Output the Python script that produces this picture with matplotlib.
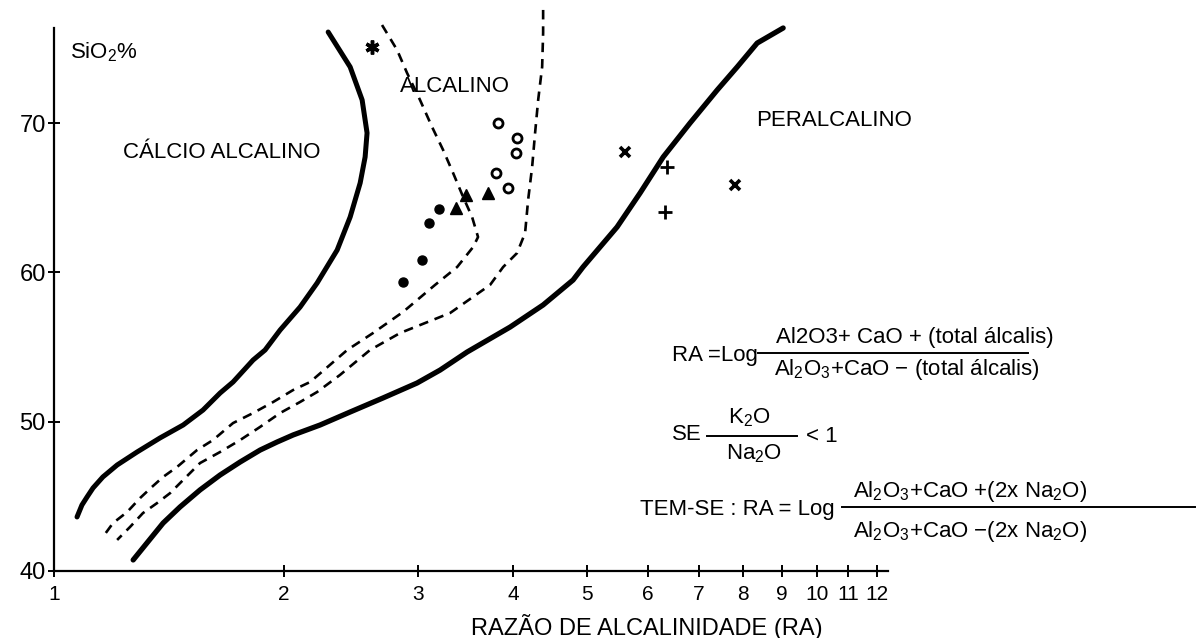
import matplotlib
matplotlib.use("Agg")
import matplotlib.pyplot as plt
from matplotlib.lines import Line2D

plt.rcParams['font.family'] = ['Liberation Sans', 'DejaVu Sans']
plt.rcParams['mathtext.fontset'] = 'custom'
plt.rcParams['mathtext.rm'] = 'Liberation Sans'
plt.rcParams['mathtext.it'] = 'Liberation Sans:italic'
plt.rcParams['mathtext.bf'] = 'Liberation Sans:bold'

# Boundary curves (RA, SiO2 %)
calc_alk_ra = [1.072, 1.088, 1.105, 1.125, 1.159, 1.210, 1.285, 1.377, 1.477, 1.568, 1.651,
               1.717, 1.824, 1.891, 1.979, 2.102, 2.213, 2.351, 2.445, 2.520, 2.558, 2.573,
               2.535, 2.445, 2.288]
calc_alk_si = [43.62, 44.42, 44.96, 45.56, 46.30, 47.10, 47.97, 48.91, 49.78, 50.78, 51.92,
               52.66, 54.13, 54.80, 56.14, 57.68, 59.29, 61.50, 63.71, 65.99, 67.73, 69.34,
               71.55, 73.76, 76.10]

dash_a_ra = [2.692, 2.817, 2.903, 3.019, 3.131, 3.237, 3.336, 3.439, 3.533, 3.597, 3.544,
             3.377, 3.159, 2.868, 2.620, 2.423, 2.167, 2.058, 1.938, 1.824, 1.717, 1.616,
             1.540, 1.450, 1.390, 1.344, 1.297, 1.247, 1.195, 1.159]
dash_a_si = [76.57, 74.90, 73.36, 71.55, 69.74, 68.20, 66.66, 65.05, 63.71, 62.37, 61.70,
             60.36, 59.16, 57.35, 55.94, 54.80, 52.66, 52.12, 51.32, 50.58, 49.91, 48.77,
             48.10, 46.97, 46.30, 45.63, 44.89, 43.95, 43.21, 42.28]

dash_b_ra = [4.378, 4.378, 4.365, 4.313, 4.273, 4.235, 4.184, 4.146, 4.047, 3.880, 3.730,
             3.306, 2.843, 2.596, 2.371, 2.213, 2.102, 1.979, 1.863, 1.754, 1.651, 1.554,
             1.477, 1.420, 1.365, 1.308, 1.258, 1.210]
dash_b_si = [77.58, 76.04, 73.76, 71.55, 69.34, 67.06, 64.85, 62.64, 61.30, 60.36, 59.16,
             57.28, 55.94, 54.80, 53.13, 51.99, 51.32, 50.58, 49.65, 48.77, 47.97, 47.23,
             46.10, 45.22, 44.55, 43.88, 42.95, 42.08]

peralk_ra = [1.270, 1.324, 1.390, 1.463, 1.554, 1.651, 1.754, 1.863, 1.961, 2.058, 2.233,
             2.445, 2.700, 2.992, 3.208, 3.481, 3.963, 4.378, 4.792, 4.938, 5.473, 5.867,
             6.291, 6.823, 7.406, 7.865, 8.354, 9.036]
peralk_si = [40.74, 41.88, 43.21, 44.29, 45.43, 46.43, 47.30, 48.10, 48.64, 49.11, 49.78,
             50.65, 51.59, 52.59, 53.46, 54.67, 56.34, 57.82, 59.49, 60.36, 63.04, 65.32,
             67.73, 70.01, 72.22, 73.76, 75.36, 76.37]

# Samples
star_ra, star_si = [2.612], [75.10]
dot_ra = [2.868, 3.038, 3.103, 3.198]
dot_si = [59.36, 60.83, 63.31, 64.25]
tri_ra = [3.366, 3.469, 3.709]
tri_si = [64.31, 65.18, 65.32]
ring_ra = [3.823, 4.047, 4.035, 3.800, 3.939]
ring_si = [70.01, 69.00, 68.00, 66.66, 65.65]
cross_ra = [5.608, 7.816]
cross_si = [68.06, 65.85]
plus_ra = [6.367, 6.329]
plus_si = [67.06, 64.05]

x_ticks = [1, 2, 3, 4, 5, 6, 7, 8, 9, 10, 11, 12]
y_ticks = [40, 50, 60, 70]

W, H = 1201, 638


def pix(x, y):
    # pixel position (from top-left) -> figure fraction
    return x / W, 1 - y / H


fig = plt.figure(figsize=(W / 100, H / 100), dpi=100)
ax = fig.add_axes([54 / W, 67 / H, 834 / W, 543 / H])
ax.set_xscale('log')
ax.set_xlim(1, 12.4)
ax.set_ylim(40, 76.37)

ax.plot(calc_alk_ra, calc_alk_si, color='black', lw=3.6, solid_capstyle='round',
        solid_joinstyle='round', clip_on=False)
ax.plot(peralk_ra, peralk_si, color='black', lw=3.8, solid_capstyle='round',
        solid_joinstyle='round', clip_on=False)
ax.plot(dash_a_ra, dash_a_si, color='black', lw=1.9, dashes=(3.6, 2.6), clip_on=False)
ax.plot(dash_b_ra, dash_b_si, color='black', lw=1.9, dashes=(3.6, 2.6), clip_on=False)

ax.plot(star_ra, star_si, ls='none', marker=(6, 2, 0), ms=10, mew=2.5, color='black', clip_on=False)
ax.plot(dot_ra, dot_si, ls='none', marker='o', ms=6.5, color='black')
ax.plot(tri_ra, tri_si, ls='none', marker='^', ms=9, color='black')
ax.plot(ring_ra, ring_si, ls='none', marker='o', ms=6.5, mfc='white', mec='black', mew=2)
ax.plot(cross_ra, cross_si, ls='none', marker='x', ms=7.5, mew=2.6, color='black')
ax.plot(plus_ra, plus_si, ls='none', marker='+', ms=10, mew=2, color='black')

for side in ['top', 'right']:
    ax.spines[side].set_visible(False)
for side in ['left', 'bottom']:
    ax.spines[side].set_linewidth(1.6)

ax.set_xticks(x_ticks)
ax.set_xticklabels([str(v) for v in x_ticks])
ax.xaxis.set_minor_locator(matplotlib.ticker.NullLocator())
ax.set_yticks(y_ticks)
ax.tick_params(axis='x', direction='inout', length=8, width=1.4, pad=6, labelsize=15)
ax.tick_params(axis='y', direction='inout', length=8, width=1.4, pad=2, labelsize=17)
ax.set_xlabel('RAZÃO DE ALCALINIDADE (RA)', fontsize=17, va='center')
ax.xaxis.set_label_coords((647 - 54) / 834, -(627 - 571) / 543)

# region labels
ax.text(*pix(70, 52), 'SiO$_2$%', transform=fig.transFigure, fontsize=16, va='center')
ax.text(*pix(123, 152), 'CÁLCIO ALCALINO', transform=fig.transFigure, fontsize=16, va='center')
ax.text(*pix(400, 86), 'ALCALINO', transform=fig.transFigure, fontsize=16, va='center')
ax.text(*pix(756, 120), 'PERALCALINO', transform=fig.transFigure, fontsize=16, va='center')

# formulas
fs = 16


def bar(x0, x1, y):
    (a, b), (c, _) = pix(x0, y), pix(x1, y)
    fig.add_artist(Line2D([a, c], [b, b], transform=fig.transFigure, color='black', lw=1.4))


fig.text(*pix(672, 355), 'RA =Log', fontsize=fs, va='center')
bar(758, 1028, 353)
fig.text(*pix(776, 337), 'Al2O3+ CaO + (total álcalis)', fontsize=fs, va='center')
fig.text(*pix(774, 370), 'Al$_2$O$_3$+CaO $-$ (total álcalis)', fontsize=fs, va='center')

fig.text(*pix(672, 434), 'SE', fontsize=fs, va='center')
bar(707, 797, 436)
fig.text(*pix(728, 418), 'K$_2$O', fontsize=fs, va='center')
fig.text(*pix(726, 454), 'Na$_2$O', fontsize=fs, va='center')
fig.text(*pix(806, 436), '< 1', fontsize=fs, va='center')

fig.text(*pix(640, 509), 'TEM-SE : RA = Log', fontsize=fs, va='center')
bar(842, 1195, 507)
fig.text(*pix(853, 491), 'Al$_2$O$_3$+CaO +(2x Na$_2$O)', fontsize=fs, va='center')
fig.text(*pix(853, 531), 'Al$_2$O$_3$+CaO $-$(2x Na$_2$O)', fontsize=fs, va='center')

fig.savefig('out.png', dpi=100, facecolor='white')
